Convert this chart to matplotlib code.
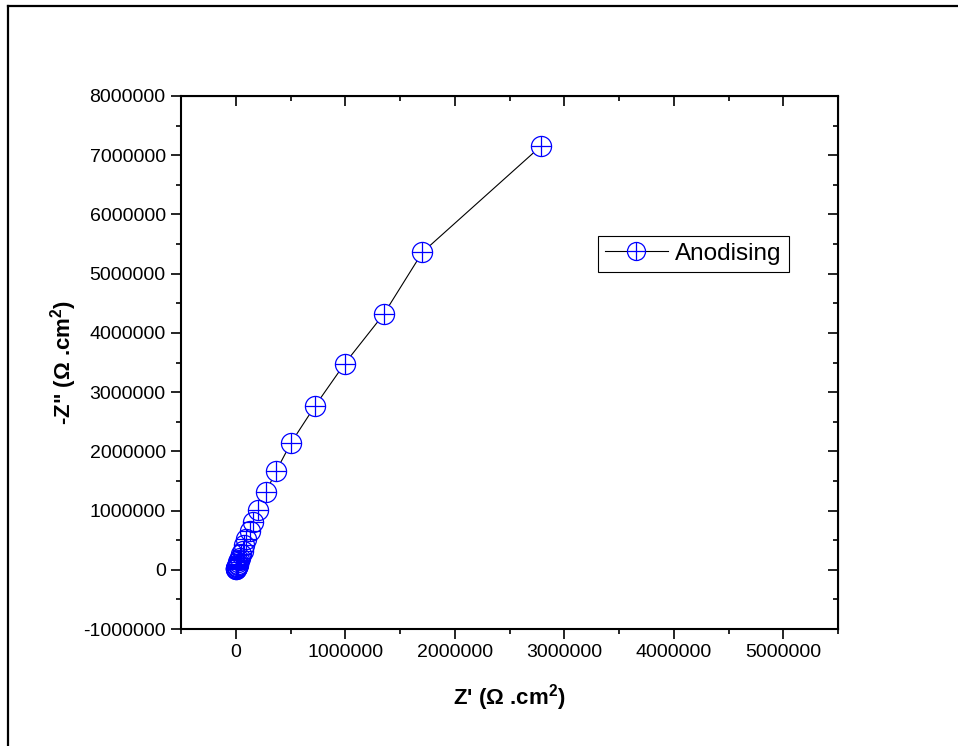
import matplotlib
matplotlib.use('Agg')
import matplotlib.pyplot as plt
from matplotlib.lines import Line2D
from matplotlib.ticker import MultipleLocator, FormatStrFormatter

plt.rcParams['font.family'] = ['Liberation Sans', 'DejaVu Sans']
plt.rcParams['mathtext.fontset'] = 'custom'
plt.rcParams['mathtext.rm'] = 'Liberation Sans'
plt.rcParams['mathtext.bf'] = 'Liberation Sans:bold'
plt.rcParams['axes.unicode_minus'] = False

# Nyquist data (ohm.cm2)
z_real = [2789000, 1704000, 1353000, 995000, 721000, 505000, 371000, 274000,
          207000, 158000, 128000, 98000, 78000, 62000, 49000, 39000, 31000,
          25000, 20000, 16000, 12500, 10000, 8000, 6500, 5000, 4000, 3200]
z_imag = [7157000, 5359000, 4320000, 3481000, 2758000, 2144000, 1675000, 1308000,
          1010000, 800000, 648000, 519000, 410000, 325000, 258000, 204000, 162000,
          128000, 101000, 80000, 63000, 50000, 39000, 31000, 24000, 19000, 15000]
series_name = 'Anodising'

fig = plt.figure(figsize=(9.58, 7.46), dpi=100)
ax = fig.add_axes([181/958, 1-629/746, (838-181)/958, (629-96)/746])

ax.plot(z_real, z_imag, color='black', lw=0.8, zorder=1)
# white discs hide the line inside the markers
ax.plot(z_real, z_imag, ls='none', marker='o', ms=14.5, mfc='white', mec='none', zorder=2)
ax.plot(z_real, z_imag, ls='none', marker='o', ms=14.5, mfc='none', mec='blue', mew=0.9, zorder=3)
ax.plot(z_real, z_imag, ls='none', marker='+', ms=14.5, mec='blue', mew=0.9, zorder=3)

ax.set_xlim(-500000, 5500000)
ax.set_ylim(-1000000, 8000000)
ax.xaxis.set_major_locator(MultipleLocator(1000000))
ax.xaxis.set_minor_locator(MultipleLocator(500000))
ax.yaxis.set_major_locator(MultipleLocator(1000000))
ax.yaxis.set_minor_locator(MultipleLocator(500000))
ax.xaxis.set_major_formatter(FormatStrFormatter('%d'))
ax.yaxis.set_major_formatter(FormatStrFormatter('%d'))
ax.tick_params(which='major', direction='out', length=7, width=1.2, labelsize=14, pad=4)
ax.tick_params(which='minor', direction='out', length=3.8, width=1.2)
for s in ax.spines.values():
    s.set_linewidth(1.5)

top = ax.secondary_xaxis('top')
top.xaxis.set_major_locator(MultipleLocator(1000000))
top.xaxis.set_minor_locator(MultipleLocator(500000))
top.tick_params(which='major', direction='in', length=7, width=1.2, labeltop=False)
top.tick_params(which='minor', direction='in', length=3.8, width=1.2)
right = ax.secondary_yaxis('right')
right.yaxis.set_major_locator(MultipleLocator(1000000))
right.yaxis.set_minor_locator(MultipleLocator(500000))
right.tick_params(which='major', direction='in', length=7, width=1.2, labelright=False)
right.tick_params(which='minor', direction='in', length=3.8, width=1.2)

ax.set_xlabel(r"Z' (Ω .cm$^{\mathbf{2}}$)", fontsize=16, fontweight='bold', labelpad=15)
ax.set_ylabel(r'-Z" (Ω .cm$^{\mathbf{2}}$)', fontsize=16, fontweight='bold', labelpad=3)

legend_handle = (Line2D([], [], color='black', lw=0.8),
                 Line2D([], [], ls='none', marker='o', ms=13, mfc='white', mec='blue', mew=0.9),
                 Line2D([], [], ls='none', marker='+', ms=13, mec='blue', mew=0.9))
leg = ax.legend([legend_handle], [series_name], loc='upper left',
                bbox_to_anchor=((598-181)/657, (629-236)/533), fontsize=17.5,
                fancybox=False, framealpha=1, edgecolor='black', borderpad=0.28,
                handlelength=2.6, handletextpad=0.3, borderaxespad=0)
leg.get_frame().set_linewidth(0.8)

# outer frame (top and left edges)
fig.add_artist(Line2D([8/958, 957/958], [1-6/746, 1-6/746], color='black', lw=1.6, transform=fig.transFigure))
fig.add_artist(Line2D([8/958, 8/958], [0, 1-6/746], color='black', lw=1.6, transform=fig.transFigure))

fig.savefig('out.png', dpi=100)
